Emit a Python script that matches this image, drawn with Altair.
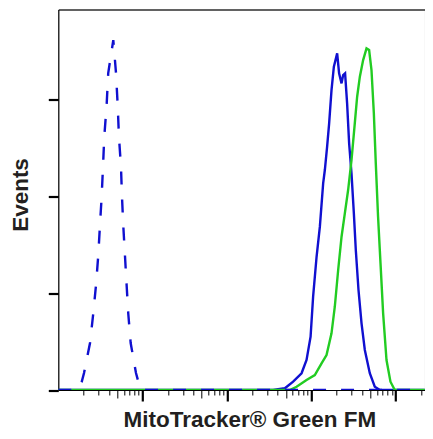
import altair as alt
import pandas as pd

# x values are log10 exponents of fluorescence intensity; y values are event counts (arbitrary units)
ctrl_exp = [1.0, 1.23, 1.277, 1.305, 1.376, 1.415, 1.447, 1.474, 1.494, 1.514, 1.530, 1.545, 1.573, 1.592,
            1.652, 1.684, 1.704, 1.719, 1.743, 1.755, 1.770, 1.790, 1.810, 1.829, 1.858, 1.921, 1.950, 1.980, 5.5]
ctrl_evt = [0, 0, 8.3, 17.6, 48.6, 79.6, 108.6, 139.6, 170.6, 199.9, 230.9, 261.9, 294.7, 327.8,
            361.9, 327.8, 294.7, 261.9, 230.9, 199.9, 170.6, 139.6, 108.6, 79.6, 48.6, 17.6, 8.3, 0, 0]

blue_exp = [1.0, 3.547, 3.686, 3.784, 3.884, 3.943, 3.991, 4.021, 4.062, 4.101, 4.140, 4.160, 4.187, 4.211,
            4.239, 4.267, 4.306, 4.329, 4.358, 4.377, 4.400, 4.424, 4.448, 4.476, 4.504, 4.527, 4.559,
            4.595, 4.634, 4.693, 4.752, 4.812, 5.5]
blue_evt = [0, 0, 1.8, 8.6, 17.3, 31.0, 55.1, 96.5, 137.8, 168.9, 213.7, 227.5, 251.6, 275.8,
            310.2, 334.3, 348.1, 327.5, 317.1, 325.7, 327.5, 296.4, 255.1, 224.1, 182.7, 144.8, 103.4,
            69.0, 41.4, 17.3, 3.4, 0, 0]

green_exp = [1.0, 3.745, 3.825, 3.943, 4.041, 4.121, 4.180, 4.239, 4.278, 4.318, 4.358, 4.397, 4.436, 4.476,
             4.515, 4.543, 4.575, 4.614, 4.654, 4.685, 4.713, 4.741, 4.764, 4.791, 4.820, 4.851, 4.891,
             4.938, 4.989, 5.5]
green_evt = [0, 0, 3.4, 10.3, 15.5, 27.6, 36.2, 58.6, 86.1, 124.1, 158.5, 182.7, 206.8, 237.8,
             275.8, 303.3, 324.0, 341.2, 353.3, 351.6, 330.9, 286.1, 234.4, 179.2, 131.0, 79.3, 31.0,
             8.6, 0, 0]

major_x = [1e2, 1e3, 1e4, 1e5]
mid_x = [50, 500, 5000, 50000]
minor_x = [20, 30, 40, 60, 70, 80, 90, 200, 300, 400, 600, 700, 800, 900,
           2000, 3000, 4000, 6000, 7000, 8000, 9000, 20000, 30000, 40000, 60000, 70000, 80000, 90000, 200000]
major_y = [0, 100, 200, 300]
minor_y = [25, 50, 75, 125, 150, 175, 225, 250, 275, 325, 350, 375]

XDOM = [10, 10 ** 5.345]
YDOM = [0, 393.5]

def frame(exp, evt, name):
    return pd.DataFrame({"x": [10 ** e for e in exp], "y": evt, "s": name})

ctrl = frame(ctrl_exp, ctrl_evt, "ctrl")
blue = frame(blue_exp, blue_evt, "blue")
green = frame(green_exp, green_evt, "green")

FONT = "Liberation Sans"

xs = alt.Scale(type="log", domain=XDOM, nice=False)
ys = alt.Scale(domain=YDOM, nice=False, zero=False)

def xaxis(values, size, width, title=None, domain=False, orient="bottom"):
    kw = dict(values=values, tickSize=size, tickWidth=width, tickColor="#000000", labels=False,
              grid=False, domain=domain, orient=orient, domainColor="#000000", domainWidth=1.2)
    if title:
        kw.update(title=title, titleFont=FONT, titleFontSize=22.5, titleFontWeight="bold", titleColor="#231f20",
                  titleX=191, titleY=36.5, titleAlign="center", titleBaseline="alphabetic")
    else:
        kw.update(title=None)
    return alt.Axis(**kw)

def yaxis(values, size, width, title=None, domain=False):
    kw = dict(values=values, tickSize=size, tickWidth=width, tickColor="#000000", labels=False,
              grid=False, domain=domain, domainColor="#000000", domainWidth=1.2)
    if title:
        kw.update(title=title, titleFont=FONT, titleFontSize=22.5, titleFontWeight="bold", titleColor="#231f20",
                  titleAngle=-90, titleX=-37.5, titleY=185, titleAlign="center", titleBaseline="middle")
    else:
        kw.update(title=None)
    return alt.Axis(**kw)

def line(df, color, dash=None, xa=None, ya=None):
    mk = dict(color=color, strokeWidth=2.4, clip=True, interpolate="linear")
    if dash:
        mk["strokeDash"] = dash
    return alt.Chart(df).mark_line(**mk).encode(
        x=alt.X("x:Q", scale=xs, axis=xa),
        y=alt.Y("y:Q", scale=ys, axis=ya),
        order=alt.Order("idx:Q"),
    ).transform_window(idx="row_number()")

l_blue = line(blue, "#1010D0", xa=xaxis(major_x, 11, 2.2, title="MitoTracker® Green FM", domain=True),
              ya=yaxis(major_y, 10, 2.2, title="Events", domain=True))
l_green = line(green, "#22CC22", xa=xaxis(mid_x, 8, 1), ya=yaxis(minor_y, 5, 1))
l_ctrl = line(ctrl, "#1010D0", dash=[13, 15], xa=xaxis(minor_x, 5, 1), ya=None)
top = alt.Chart(blue).mark_point(opacity=0).encode(
    x=alt.X("x:Q", scale=xs, axis=alt.Axis(orient="top", ticks=False, labels=False, title=None, grid=False,
                                           domain=True, domainColor="#333333", domainWidth=1.5)),
    y=alt.Y("y:Q", scale=ys, axis=None),
)

chart = alt.layer(top, l_blue, l_green, l_ctrl).resolve_axis(x="independent", y="independent").properties(
    width=366.5, height=380.5,
    autosize=alt.AutoSizeParams(type="none"),
    padding={"left": 50.3, "top": 1.5, "right": 0, "bottom": 41},
).configure_view(stroke=None).configure(background="white")

chart.save("out.html", embed_options={"renderer": "svg", "actions": False})
